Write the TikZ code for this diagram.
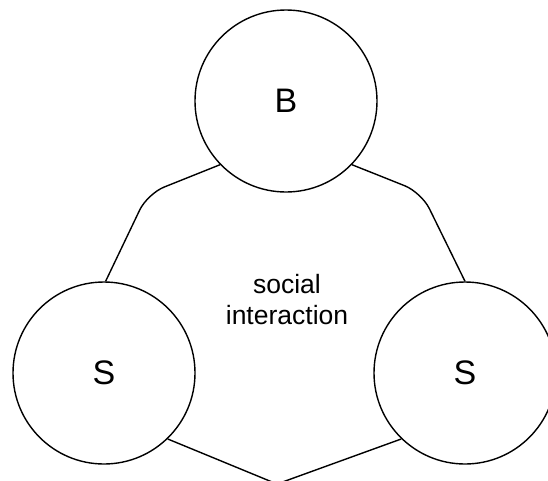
\documentclass[tikz,border=0pt]{standalone}
\usepackage{fontspec}
\setmainfont{Liberation Sans}
\begin{document}
\begin{tikzpicture}[x=1pt,y=-1pt,
  ball/.style={draw, circle, line width=1.4pt, minimum size=182pt, inner sep=0pt, font=\fontsize{34}{40}\selectfont},
  link/.style={draw, line width=1.4pt, rounded corners=18pt},
  lbl/.style={align=center, font=\fontsize{26.5}{31}\selectfont}]
\useasboundingbox (0,0) rectangle (548,480);
\node[ball] (B) at (286,101) {B};
\node[ball] (S1) at (104,373) {S};
\node[ball] (S2) at (465,373) {S};
\node[lbl] (T) at (287,300) {social\\interaction};
\coordinate (cl) at (147.5,193.7);
\coordinate (cr) at (421.4,192.4);
\coordinate (cb) at (277,484);
\path[link] (B.224) -- (cl) -- (S1.89);
\path[link] (B.316) -- (cr) -- (S2.90);
\path[link, rounded corners=4pt] (S1.314) -- (cb) -- (S2.226);
\end{tikzpicture}
\end{document}
